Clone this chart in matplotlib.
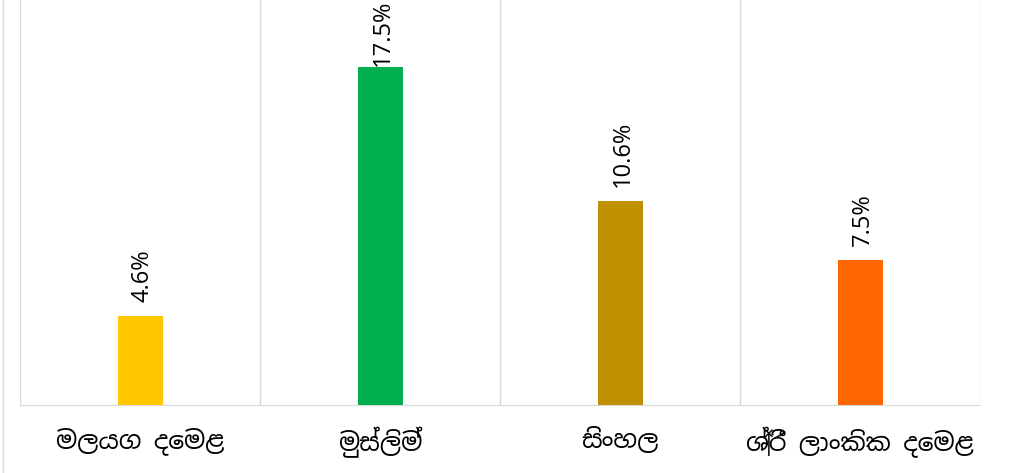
import matplotlib
matplotlib.use("Agg")
import matplotlib.pyplot as plt
from matplotlib import font_manager
from matplotlib.lines import Line2D

categories = ["මලයග දෙමළ", "මුස්ලිම්", "සිංහල", "ශ්‍රී ලාංකික දෙමළ"]
values = [4.6, 17.5, 10.6, 7.5]
bar_colors = ["#FFC800", "#00B050", "#BF9000", "#FF6600"]

# look for a font that can draw Sinhala
sinhala_fonts = []
for f in font_manager.fontManager.ttflist:
    if "sinhala" in f.name.lower() or "iskoola" in f.name.lower():
        sinhala_fonts.append(f.name)
label_family = sorted(set(sinhala_fonts)) + ["DejaVu Sans"]

fig = plt.figure(figsize=(10.11, 4.73), dpi=100)
ax = fig.add_axes([20 / 1011, 68 / 473, 960 / 1011, 405 / 473])

x = list(range(len(categories)))
ax.bar(x, values, width=0.1875, color=bar_colors, zorder=3)

ax.set_xlim(-0.5, len(categories) - 0.5)
ax.set_ylim(0, 21)

# category separators
for b in [i - 0.5 for i in range(len(categories) + 1)]:
    ax.axvline(b, color="#d9d9d9", lw=1, zorder=1)

for s in ["top", "left", "right"]:
    ax.spines[s].set_visible(False)
ax.spines["bottom"].set_color("#d9d9d9")
ax.set_yticks([])
ax.set_xticks(x)
ax.set_xticklabels(categories, fontsize=18, family=label_family)
ax.tick_params(axis="x", length=0, pad=16)

for xi, v in zip(x, values):
    off = 1 if v > 15 else 10
    ax.annotate(f"{v}%", (xi, v), xytext=(2, off), textcoords="offset points",
                rotation=90, ha="center", va="bottom", fontsize=17,
                family="Open Sans", annotation_clip=False)

fig.add_artist(Line2D([3 / 1011, 3 / 1011], [0, 1], color="#d9d9d9", lw=1))

fig.savefig("out.png", dpi=100)
